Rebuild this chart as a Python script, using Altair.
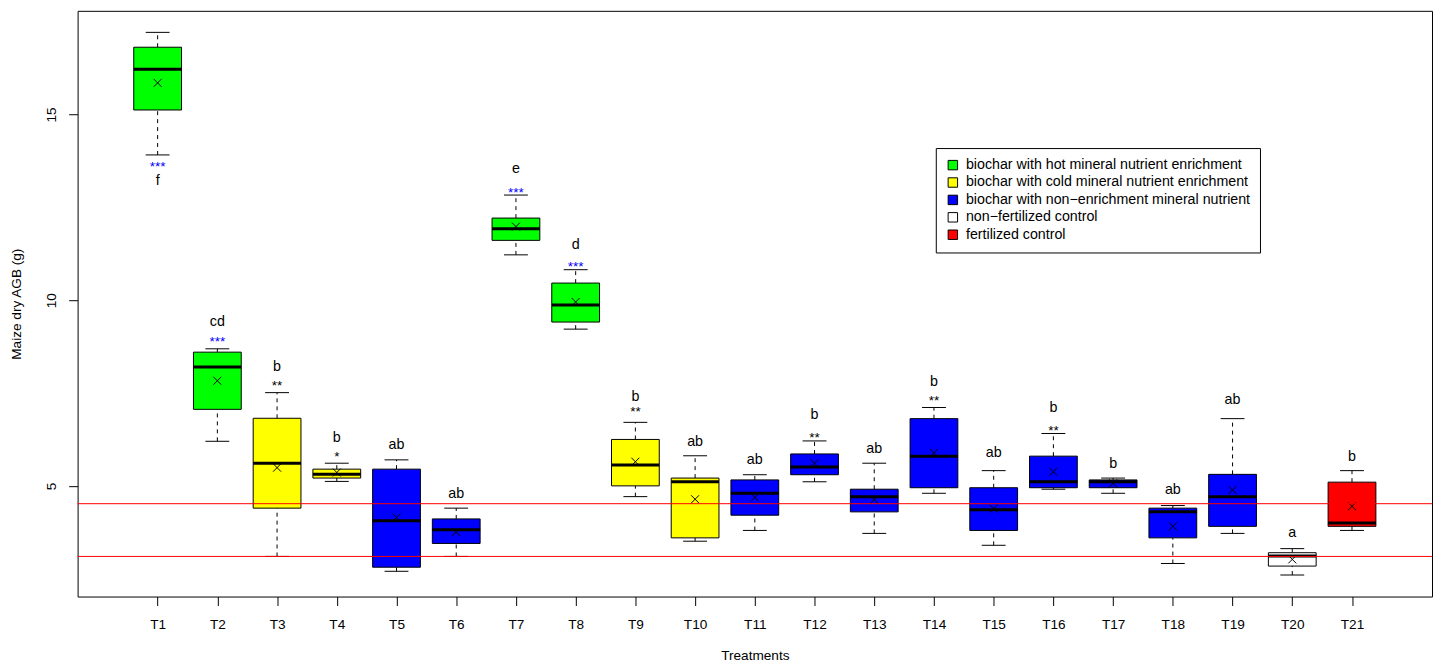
import altair as alt
import pandas as pd

# ---------------- data ----------------
treatments = ["T1", "T2", "T3", "T4", "T5", "T6", "T7", "T8", "T9", "T10", "T11",
              "T12", "T13", "T14", "T15", "T16", "T17", "T18", "T19", "T20", "T21"]

G_HOT = "biochar with hot mineral nutrient enrichment"
G_COLD = "biochar with cold mineral nutrient enrichment"
G_NON = "biochar with non\u2212enrichment mineral nutrient"
G_NF = "non\u2212fertilized control"
G_F = "fertilized control"
group_names = [G_HOT, G_COLD, G_NON, G_NF, G_F]
group_colors = ["#00FF00", "#FFFF00", "#0000FF", "#FFFFFF", "#FF0000"]

groups = [G_HOT, G_HOT, G_COLD, G_COLD, G_NON, G_NON, G_HOT, G_HOT, G_COLD, G_COLD,
          G_NON, G_NON, G_NON, G_NON, G_NON, G_NON, G_NON, G_NON, G_NON, G_NF, G_F]

lower_whisker = [13.91, 6.20, 3.10, 5.12, 2.70, 3.10, 11.22, 9.22, 4.71, 3.51, 3.80,
                 5.11, 3.72, 4.80, 3.40, 4.91, 4.80, 2.91, 3.72, 2.60, 3.80]
q1 = [15.12, 7.06, 4.40, 5.21, 2.81, 3.45, 11.61, 9.41, 5.00, 3.60, 4.21,
      5.30, 4.30, 4.95, 3.80, 4.95, 4.95, 3.60, 3.91, 2.84, 3.91]
median = [16.22, 8.20, 5.61, 5.31, 4.06, 3.82, 11.92, 9.87, 5.56, 5.11, 4.80,
          5.51, 4.71, 5.80, 4.36, 5.11, 5.11, 4.30, 4.71, 3.11, 4.00]
q3 = [16.81, 8.60, 6.82, 5.45, 5.45, 4.11, 12.21, 10.46, 6.25, 5.21, 5.16,
      5.86, 4.91, 6.81, 4.95, 5.80, 5.16, 4.40, 5.31, 3.20, 5.10]
upper_whisker = [17.21, 8.69, 7.51, 5.61, 5.70, 4.40, 12.83, 10.82, 6.71, 5.81, 5.30,
                 6.21, 5.61, 7.11, 5.41, 6.41, 5.21, 4.47, 6.81, 3.31, 5.41]
mean = [15.85, 7.83, 5.49, 5.36, 4.15, 3.76, 11.98, 9.95, 5.65, 4.64, 4.69,
        5.61, 4.63, 5.89, 4.39, 5.38, 5.07, 3.91, 4.89, 3.02, 4.45]

letters = ["f", "cd", "b", "b", "ab", "ab", "e", "d", "b", "ab", "ab",
           "b", "ab", "b", "ab", "b", "b", "ab", "ab", "a", "b"]
letter_y = [13.20, 9.41, 8.19, 6.29, 6.09, 4.79, 13.54, 11.49, 7.39, 6.18, 5.70,
            6.90, 5.98, 7.79, 5.89, 7.09, 5.59, 4.89, 7.30, 3.72, 5.78]

stars = ["***", "***", "**", "*", "", "", "***", "***", "**", "", "",
         "**", "", "**", "", "**", "", "", "", "", ""]
star_color = ["#0000FF", "#0000FF", "black", "black", "black", "black", "#0000FF", "#0000FF",
              "black", "black", "black", "black", "black", "black", "black", "black",
              "black", "black", "black", "black", "black"]
star_y = [13.70, 8.99, 7.79, 5.89, 0, 0, 13.00, 11.00, 7.09, 0, 0,
          6.39, 0, 7.39, 0, 6.59, 0, 0, 0, 0, 0]

reference_lines = [4.52, 3.10]

y_ticks = [5, 10, 15]

# ---------------- table ----------------
n = len(treatments)
idx = list(range(1, n + 1))
df = pd.DataFrame({
    "treatment": treatments,
    "idx": idx,
    "group": groups,
    "lw": lower_whisker,
    "q1": q1,
    "med": median,
    "q3": q3,
    "uw": upper_whisker,
    "mean": mean,
    "letter": letters,
    "letter_y": letter_y,
    "stars": stars,
    "star_color": star_color,
    "star_y": star_y,
})
df["x_lo"] = df["idx"] - 0.4
df["x_hi"] = df["idx"] + 0.4
df["s_lo"] = df["idx"] - 0.2
df["s_hi"] = df["idx"] + 0.2
stars_df = df[df["stars"] != ""]
lines_df = pd.DataFrame({"ref": reference_lines})

FONT = "Liberation Sans"

xscale = alt.Scale(domain=[-0.34, 22.34], nice=False, zero=False)
yscale = alt.Scale(domain=[2.02, 17.79], nice=False, zero=False)

xaxis = alt.Axis(
    title="Treatments", values=idx, labelExpr="'T' + datum.value",
    tickSize=9, labelPadding=12, labelFontSize=13.7, titleFontSize=13.7,
    labelFont=FONT, titleFont=FONT, labelColor="black", titleColor="black",
    tickColor="black", titleFontWeight="normal", labelOverlap=False, labelFlush=False,
    grid=False, domain=False, titleY=63, titleBaseline="alphabetic", titleAlign="center",
    titleX=681,
)
yaxis = alt.Axis(
    title="Maize dry AGB (g)", values=y_ticks, labelAngle=270, labelAlign="center",
    labelBaseline="bottom", tickSize=9, labelPadding=10, labelFontSize=13.7,
    titleFontSize=13.7, labelFont=FONT, titleFont=FONT, labelColor="black",
    titleColor="black", tickColor="black", titleFontWeight="normal", grid=False,
    domain=False, titleAngle=270, titleX=-61, titleY=294.5, titleAlign="center",
    titleBaseline="middle", labelOverlap=False,
)


def X(field):
    return alt.X(field, type="quantitative", scale=xscale, axis=xaxis)


def Y(field):
    return alt.Y(field, type="quantitative", scale=yscale, axis=yaxis)


base = alt.Chart(df)

whisk_lo = base.mark_rule(color="black", strokeDash=[4, 4], strokeWidth=1).encode(
    x=X("idx"), y=Y("lw"), y2="q1")
whisk_hi = base.mark_rule(color="black", strokeDash=[4, 4], strokeWidth=1).encode(
    x=X("idx"), y=Y("q3"), y2="uw")
staple_lo = base.mark_rule(color="black", strokeWidth=1).encode(
    x=X("s_lo"), x2="s_hi", y=Y("lw"))
staple_hi = base.mark_rule(color="black", strokeWidth=1).encode(
    x=X("s_lo"), x2="s_hi", y=Y("uw"))

boxes = base.mark_rect(stroke="black", strokeWidth=1, opacity=1).encode(
    x=X("x_lo"), x2="x_hi", y=Y("q1"), y2="q3",
    fill=alt.Fill(
        "group:N",
        scale=alt.Scale(domain=group_names, range=group_colors),
        legend=alt.Legend(
            title=None, orient="none", legendX=863, legendY=138, direction="vertical",
            symbolType="square", symbolSize=90, symbolStrokeColor="black",
            symbolStrokeWidth=1, symbolOpacity=1, labelFont=FONT, labelFontSize=14.3,
            labelColor="black", labelLimit=600, labelOffset=6, rowPadding=2.5,
            padding=10, strokeColor="black", fillColor="white",
        ),
    ),
)

medians = base.mark_rule(color="black", strokeWidth=3).encode(
    x=X("x_lo"), x2="x_hi", y=Y("med"))

means = base.mark_point(
    shape="M-1,-1L1,1M-1,1L1,-1", size=64, filled=False, color="black",
    strokeWidth=1, opacity=1).encode(x=X("idx"), y=Y("mean"))

letter_text = base.mark_text(
    font=FONT, fontSize=14.4, color="black", baseline="middle", align="center").encode(
    x=X("idx"), y=Y("letter_y"), text="letter:N")

star_text = alt.Chart(stars_df).mark_text(
    font=FONT, fontSize=13.5, baseline="middle", align="center", dy=4).encode(
    x=X("idx"), y=Y("star_y"), text="stars:N",
    color=alt.Color("star_color:N", scale=None))

red_lines = alt.Chart(lines_df).mark_rule(color="#FF0000", strokeWidth=1).encode(
    y=Y("ref"))

chart = alt.layer(
    whisk_lo, whisk_hi, staple_lo, staple_hi, boxes, medians, means,
    letter_text, star_text, red_lines,
).properties(
    width=1362, height=589,
    background="white",
    autosize=alt.AutoSizeParams(type="none"),
    padding={"left": 70, "top": 1, "right": 3, "bottom": 68},
).configure_view(
    stroke="black", strokeWidth=1,
)

chart.save("out.html", embed_options={"renderer": "svg", "actions": False})
